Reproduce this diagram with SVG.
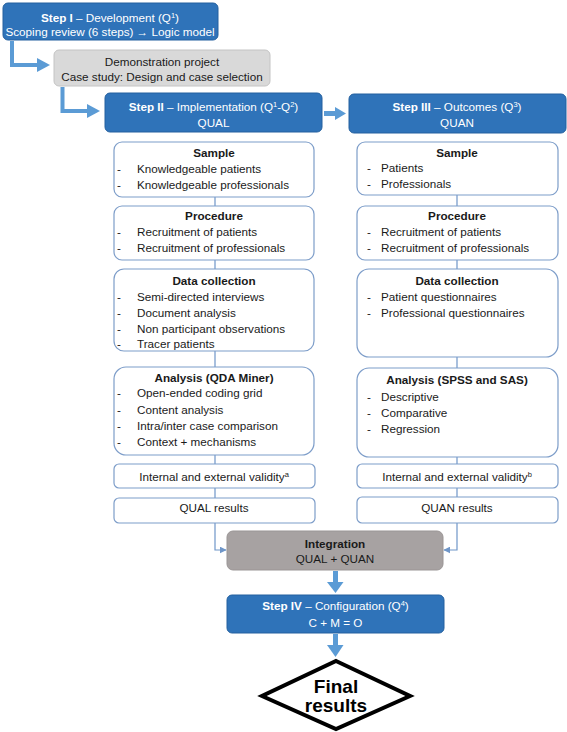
<svg xmlns="http://www.w3.org/2000/svg" width="567" height="732" viewBox="0 0 567 732">
<defs>
<style>
text{font-family:"Liberation Sans",Arial,sans-serif;font-size:11.7px;fill:#1a1a1a}
.c{text-anchor:middle}
.b{font-weight:bold}
.w{fill:#ffffff}
.blue{fill:#2f73b9;stroke:#24609f;stroke-width:1}
.gray{fill:#d9d9d9;stroke:#c4c4c4;stroke-width:1}
.dgray{fill:#a7a2a2;stroke:#9a9595;stroke-width:1}
.wb{fill:#ffffff;stroke:#7d9dc9;stroke-width:1.2}
.thin{fill:none;stroke:#6f96c8;stroke-width:1.2}
.thick{fill:none;stroke:#5b9bd5;stroke-width:4}
.head{fill:#5b9bd5}
.sup{font-size:7.5px}
</style>
<marker id="ah" viewBox="0 0 10 10" refX="9" refY="5" markerWidth="7" markerHeight="7" orient="auto" markerUnits="userSpaceOnUse">
<path d="M0,0 L10,5 L0,10 z" fill="#6f96c8"/>
</marker>
</defs>
<rect width="567" height="732" fill="#ffffff"/>

<g id="connectors">
<path class="thin" d="M215,197 V550 H226" marker-end="url(#ah)"/>
<path class="thin" d="M457,195 V550 H444" marker-end="url(#ah)"/>
<path class="thick" d="M12,41 V65 H38"/>
<polygon class="head" points="37,58 50,65 37,72"/>
<path class="thick" d="M62.5,87 V111 H88"/>
<polygon class="head" points="87,104 100,111 87,118"/>
<rect class="head" x="324" y="111" width="12" height="5"/>
<polygon class="head" points="335,107 346,113.5 335,120"/>
<rect class="head" x="333" y="571" width="5" height="12"/>
<polygon class="head" points="327,582 343.5,582 335.5,593"/>
<rect class="head" x="333" y="634" width="5" height="12"/>
<polygon class="head" points="327,645 343.5,645 335.5,657"/>
</g>

<g id="step1">
<rect class="blue" x="3" y="3" width="215" height="37" rx="5"/>
<text class="c w" x="110" y="22"><tspan class="b">Step I</tspan> – Development (Q<tspan class="sup" baseline-shift="super">1</tspan>)</text>
<text class="c w" x="110" y="36">Scoping review (6 steps) → Logic model</text>
</g>

<g id="demo">
<rect class="gray" x="54" y="50" width="216" height="36" rx="5"/>
<text class="c" x="162" y="66">Demonstration project</text>
<text class="c" x="162" y="81">Case study: Design and case selection</text>
</g>

<g id="step2">
<rect class="blue" x="105" y="93" width="217" height="39" rx="5"/>
<text class="c w" x="213.5" y="111"><tspan class="b">Step II</tspan> – Implementation (Q<tspan class="sup" baseline-shift="super">1</tspan>-Q<tspan class="sup" baseline-shift="super">2</tspan>)</text>
<text class="c w" x="213.5" y="127">QUAL</text>
</g>

<g id="step3">
<rect class="blue" x="349" y="94" width="217" height="39" rx="5"/>
<text class="c w" x="457" y="111"><tspan class="b">Step III</tspan>  – Outcomes (Q<tspan class="sup" baseline-shift="super">3</tspan>)</text>
<text class="c w" x="457" y="127">QUAN</text>
</g>

<g id="qual-sample">
<rect class="wb" x="114" y="142" width="200" height="55" rx="8"/>
<text class="c b" x="214" y="157">Sample</text>
<text x="117" y="173">-</text><text x="137" y="173">Knowledgeable patients</text>
<text x="117" y="189">-</text><text x="137" y="189">Knowledgeable professionals</text>
</g>

<g id="qual-procedure">
<rect class="wb" x="114" y="206" width="200" height="54" rx="8"/>
<text class="c b" x="214" y="220">Procedure</text>
<text x="117" y="236">-</text><text x="137" y="236">Recruitment of patients</text>
<text x="117" y="252">-</text><text x="137" y="252">Recruitment of professionals</text>
</g>

<g id="qual-data">
<rect class="wb" x="114" y="269" width="200" height="82" rx="10"/>
<text class="c b" x="214" y="285">Data collection</text>
<text x="117" y="301">-</text><text x="137" y="301">Semi-directed interviews</text>
<text x="117" y="317">-</text><text x="137" y="317">Document analysis</text>
<text x="117" y="333">-</text><text x="137" y="333">Non participant observations</text>
<text x="117" y="348">-</text><text x="137" y="348">Tracer patients</text>
</g>

<g id="qual-analysis">
<rect class="wb" x="114" y="367" width="200" height="88" rx="12"/>
<text class="c b" x="214" y="382">Analysis (QDA Miner)</text>
<text x="117" y="397">-</text><text x="137" y="397">Open-ended coding grid</text>
<text x="117" y="414">-</text><text x="137" y="414">Content analysis</text>
<text x="117" y="430">-</text><text x="137" y="430">Intra/inter case comparison</text>
<text x="117" y="446">-</text><text x="137" y="446">Context + mechanisms</text>
</g>

<g id="qual-validity">
<rect class="wb" x="114" y="464" width="201" height="24" rx="5"/>
<text class="c" x="214" y="481">Internal and external validity<tspan class="sup" baseline-shift="super">a</tspan></text>
</g>

<g id="qual-results">
<rect class="wb" x="114" y="498" width="201" height="25" rx="5"/>
<text class="c" x="214" y="512">QUAL results</text>
</g>

<g id="quan-sample">
<rect class="wb" x="357" y="142" width="201" height="53" rx="8"/>
<text class="c b" x="457" y="157">Sample</text>
<text x="367" y="172">-</text><text x="381" y="172">Patients</text>
<text x="367" y="188">-</text><text x="381" y="188">Professionals</text>
</g>

<g id="quan-procedure">
<rect class="wb" x="357" y="206" width="201" height="54" rx="8"/>
<text class="c b" x="457" y="220">Procedure</text>
<text x="367" y="236">-</text><text x="381" y="236">Recruitment of patients</text>
<text x="367" y="252">-</text><text x="381" y="252">Recruitment of professionals</text>
</g>

<g id="quan-data">
<rect class="wb" x="357" y="269" width="201" height="88" rx="12"/>
<text class="c b" x="457" y="285">Data collection</text>
<text x="367" y="301">-</text><text x="381" y="301">Patient questionnaires</text>
<text x="367" y="317">-</text><text x="381" y="317">Professional questionnaires</text>
</g>

<g id="quan-analysis">
<rect class="wb" x="357" y="368" width="201" height="89" rx="12"/>
<text class="c b" x="457" y="384">Analysis (SPSS and SAS)</text>
<text x="367" y="401">-</text><text x="381" y="401">Descriptive</text>
<text x="367" y="417">-</text><text x="381" y="417">Comparative</text>
<text x="367" y="433">-</text><text x="381" y="433">Regression</text>
</g>

<g id="quan-validity">
<rect class="wb" x="357" y="464" width="201" height="24" rx="5"/>
<text class="c" x="457" y="481">Internal and external validity<tspan class="sup" baseline-shift="super">b</tspan></text>
</g>

<g id="quan-results">
<rect class="wb" x="357" y="497" width="201" height="26" rx="5"/>
<text class="c" x="457" y="512">QUAN results</text>
</g>

<g id="integration">
<rect class="dgray" x="227" y="531" width="216" height="39" rx="6"/>
<text class="c b" x="335" y="548">Integration</text>
<text class="c" x="335" y="563">QUAL + QUAN</text>
</g>

<g id="step4">
<rect class="blue" x="227" y="595" width="217" height="38" rx="5"/>
<text class="c w" x="335.5" y="610"><tspan class="b">Step IV</tspan> – Configuration (Q<tspan class="sup" baseline-shift="super">4</tspan>)</text>
<text class="c w" x="335.5" y="627">C + M = O</text>
</g>

<g id="final">
<polygon points="336,661 410,696 336,729 262,696" fill="#ffffff" stroke="#000000" stroke-width="4" stroke-linejoin="miter"/>
<text class="c b" x="336" y="693" style="font-size:19px;fill:#000">Final</text>
<text class="c b" x="336" y="712" style="font-size:19px;fill:#000">results</text>
</g>
</svg>
